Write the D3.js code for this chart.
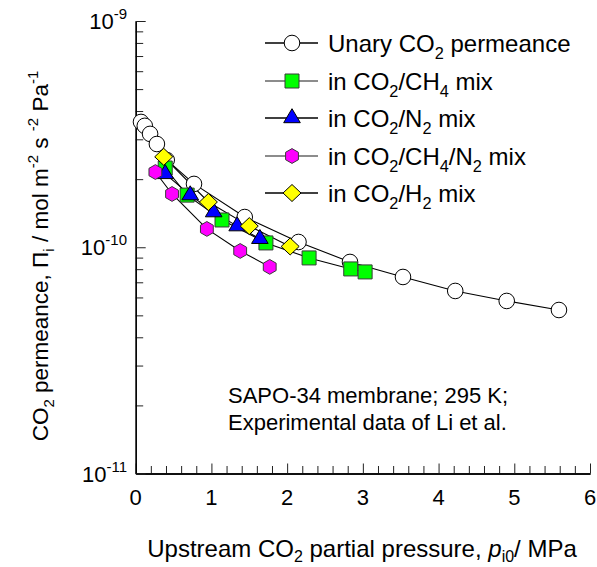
<!DOCTYPE html>
<html><head><meta charset="utf-8">
<script src="https://cdn.jsdelivr.net/npm/d3@7"></script>
<style>body{margin:0;background:#fff}svg{display:block}text{font-family:"Liberation Sans",Arial,sans-serif;fill:#000}</style>
</head><body>
<svg id="c" width="597" height="567"></svg>
<script>
// Data
const xTicks = [0,1,2,3,4,5,6];
const yTickExps = [-11,-10,-9];
const unaryP  = [0.07,0.12,0.19,0.28,0.41,0.77,1.44,2.15,2.83,3.53,4.22,4.90,5.59];
const unaryPi = [3.58e-10,3.44e-10,3.17e-10,2.86e-10,2.43e-10,1.905e-10,1.36e-10,1.055e-10,0.861e-10,0.739e-10,0.641e-10,0.579e-10,0.528e-10];
const ch4P  = [0.39,0.68,1.14,1.72,2.29,2.84,3.03];
const ch4Pi = [2.24e-10,1.70e-10,1.32e-10,1.045e-10,0.897e-10,0.802e-10,0.778e-10];
const n2P  = [0.39,0.72,1.03,1.34,1.64];
const n2Pi = [2.11e-10,1.70e-10,1.43e-10,1.24e-10,1.09e-10];
const ch4n2P  = [0.26,0.48,0.94,1.38,1.77];
const ch4n2Pi = [2.15e-10,1.72e-10,1.205e-10,0.963e-10,0.819e-10];
const h2P  = [0.37,0.96,1.50,2.04];
const h2Pi = [2.51e-10,1.585e-10,1.24e-10,1.008e-10];

const svg = d3.select("#c");
const x = d3.scaleLinear().domain([0,6]).range([135.7,590]);
const y = d3.scaleLog().domain([1e-11,1e-9]).range([473.5,21]);

function shape(type){
  switch(type){
    case "circle": return "M-7.8,0A7.8,7.8 0 1,0 7.8,0A7.8,7.8 0 1,0 -7.8,0Z";
    case "square": return "M-7,-7H7V7H-7Z";
    case "triangle": return "M0,-9.3L8.3,4.7L-8.3,4.7Z";
    case "hexagon": {
      const r=7.4; let p=[];
      for(let i=0;i<6;i++){const a=Math.PI/180*(60*i-90);p.push([r*Math.cos(a),r*Math.sin(a)]);}
      return "M"+p.map(d=>d[0].toFixed(2)+","+d[1].toFixed(2)).join("L")+"Z";
    }
    case "diamond": return "M0,-8.5L9,0L0,8.5L-9,0Z";
  }
}

const series = [
  {P:unaryP, Pi:unaryPi, type:"circle", fill:"#ffffff", stroke:"#000", line:"#000", leg:"#000"},
  {P:ch4P, Pi:ch4Pi, type:"square", fill:"#00ff00", stroke:"#3a3a3a", line:"#000", leg:"#666"},
  {P:n2P, Pi:n2Pi, type:"triangle", fill:"#0000ff", stroke:"#000", line:"#000", leg:"#000"},
  {P:ch4n2P, Pi:ch4n2Pi, type:"hexagon", fill:"#ff00ff", stroke:"#3a3a3a", line:"#000", leg:"#666"},
  {P:h2P, Pi:h2Pi, type:"diamond", fill:"#ffff00", stroke:"#000", line:"#000", leg:"#000"}
];

// Axes
const gx = svg.append("g").attr("transform","translate(0,473.5)");
const minorX = d3.range(0,30).map(i=>i*0.2).filter(v=>Math.abs(v-Math.round(v))>1e-6);
gx.call(d3.axisBottom(x).tickValues(minorX).tickSize(-7.5).tickSizeOuter(0).tickFormat(""));
gx.append("g").call(d3.axisBottom(x).tickValues(xTicks).tickSize(-10).tickSizeOuter(0).tickFormat(""));
gx.selectAll("path.domain").attr("stroke","#000").attr("stroke-width",1.3);
gx.selectAll(".tick line").attr("stroke","#222");

const gy = svg.append("g").attr("transform","translate(135.7,0)");
const minorY = [];
[-11,-10].forEach(e=>{for(let k=2;k<=9;k++) minorY.push(k*Math.pow(10,e));});
gy.call(d3.axisLeft(y).tickValues(minorY).tickSize(-7.5).tickSizeOuter(0).tickFormat(""));
gy.append("g").call(d3.axisLeft(y).tickValues(yTickExps.map(e=>Math.pow(10,e))).tickSize(-10).tickSizeOuter(0).tickFormat(""));
gy.selectAll("path.domain").attr("stroke","#000").attr("stroke-width",1.3);
gy.selectAll(".tick line").attr("stroke","#222");

// X tick labels
svg.append("g").selectAll("text").data(xTicks).join("text")
  .attr("x",d=>x(d)).attr("y",505).attr("text-anchor","middle").attr("font-size",22).text(d=>d);

// Y tick labels
yTickExps.forEach(e=>{
  const t = svg.append("text").attr("x",127).attr("y",y(Math.pow(10,e))+8).attr("text-anchor","end").attr("font-size",22);
  t.append("tspan").text("10");
  t.append("tspan").attr("font-size",15).attr("dy",-10).text(e);
});

// Lines and markers
const line = d3.line().x(d=>x(d[0])).y(d=>y(d[1]));
series.forEach(s=>{
  const pts = s.P.map((p,i)=>[p,s.Pi[i]]);
  svg.append("path").attr("d",line(pts)).attr("fill","none").attr("stroke",s.line).attr("stroke-width",1.1);
});
series.forEach(s=>{
  const pts = s.P.map((p,i)=>[p,s.Pi[i]]);
  svg.append("g").selectAll("path").data(pts).join("path")
    .attr("transform",d=>`translate(${x(d[0])},${y(d[1])})`)
    .attr("d",shape(s.type)).attr("fill",s.fill).attr("stroke",s.stroke).attr("stroke-width",1);
});

// Legend
const legRows = [43,81,118,156,193];
const legLabels = [
  [["Unary CO",0],["2",1],[" permeance",0]],
  [["in CO",0],["2",1],["/CH",0],["4",1],[" mix",0]],
  [["in CO",0],["2",1],["/N",0],["2",1],[" mix",0]],
  [["in CO",0],["2",1],["/CH",0],["4",1],["/N",0],["2",1],[" mix",0]],
  [["in CO",0],["2",1],["/H",0],["2",1],[" mix",0]]
];
function richText(t, parts, fs){
  let sub=false;
  parts.forEach(([str,isSub])=>{
    const ts = t.append("tspan").text(str);
    if(isSub){ts.attr("font-size",fs*0.68); if(!sub){ts.attr("dy",7); sub=true;}}
    else if(sub){ts.attr("dy",-7); sub=false;}
  });
}
series.forEach((s,i)=>{
  const yy = legRows[i];
  svg.append("line").attr("x1",265).attr("x2",318).attr("y1",yy).attr("y2",yy).attr("stroke",s.leg).attr("stroke-width",1.3);
  svg.append("path").attr("transform",`translate(292,${yy})`).attr("d",shape(s.type)).attr("fill",s.fill).attr("stroke",s.stroke).attr("stroke-width",1);
  const t = svg.append("text").attr("x",328).attr("y",yy+8.5).attr("font-size",24);
  richText(t, legLabels[i], 24);
});

// Annotation
svg.append("text").attr("x",228).attr("y",403).attr("font-size",22).text("SAPO-34 membrane; 295 K;");
svg.append("text").attr("x",228).attr("y",430).attr("font-size",22).text("Experimental data of Li et al.");

// X title
const xt = svg.append("text").attr("x",362).attr("y",557).attr("text-anchor","middle").attr("font-size",24);
xt.append("tspan").text("Upstream CO");
xt.append("tspan").attr("font-size",16).attr("dy",5).text("2");
xt.append("tspan").attr("dy",-5).text(" partial pressure, ");
xt.append("tspan").attr("font-style","italic").text("p");
xt.append("tspan").attr("font-size",16).attr("dy",5).text("i0");
xt.append("tspan").attr("dy",-5).text("/ MPa");

// Y title
const yt = svg.append("text").attr("transform","translate(48,256) rotate(-90)").attr("text-anchor","middle").attr("font-size",22.5);
yt.append("tspan").text("CO");
yt.append("tspan").attr("font-size",15).attr("dy",6).text("2");
yt.append("tspan").attr("dy",-6).text(" permeance, \u03A0");
yt.append("tspan").attr("font-size",15).attr("dy",6).text("i");
yt.append("tspan").attr("dy",-6).text("  / mol m");
yt.append("tspan").attr("font-size",15).attr("dy",-10).text("-2");
yt.append("tspan").attr("dy",10).text(" s ");
yt.append("tspan").attr("font-size",15).attr("dy",-10).text("-2");
yt.append("tspan").attr("dy",10).text(" Pa");
yt.append("tspan").attr("font-size",15).attr("dy",-10).text("-1");
</script>
</body></html>
